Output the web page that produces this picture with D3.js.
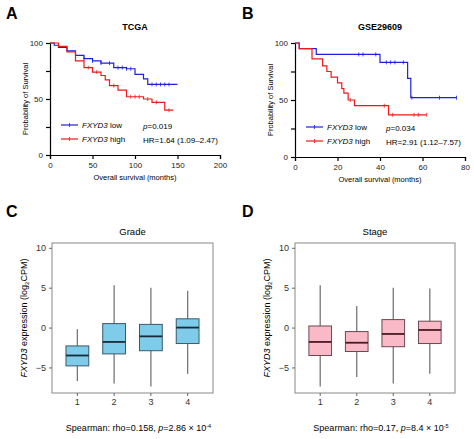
<!DOCTYPE html>
<html><head><meta charset="utf-8">
<script src="https://cdn.jsdelivr.net/npm/d3@7"></script>
<style>body{margin:0;background:#fff}text{font-family:Arial,"Liberation Sans",sans-serif}</style>
</head><body><svg id="c" width="474" height="439"></svg>
<script>
// KM step points: [time, survival %]
const tcgaLow = [[0,100],[5,98],[10,96],[20,93],[30,89],[40,86],[50,84],[60,82],[75,78],[90,77],[100,72],[110,68],[115,63],[150,63]];
const tcgaHigh = [[0,100],[10,97],[20,92],[30,84],[40,78],[50,74],[60,71],[65,67],[70,62],[80,58],[90,52],[110,50],[120,47],[135,40],[145,40]];
const tcgaLowCens = [40,50,60,70,80,85,90,95,120,125,130,135,140];
const tcgaHighCens = [45,55,75,95,100,105,115,125,140];
const geoLow = [[0,100],[2,95],[10,90],[40,83],[53,69],[54.5,52],[76,52]];
const geoHigh = [[0,100],[2,95],[8,86],[13,80],[15,75],[17,70],[20,65],[22,60],[23,56],[25,50],[28,45],[44,37],[62,37]];
const geoLowCens = [30,32,38,43,45,47,51,55,68,76];
const geoHighCens = [26,42,46,56,58,62];
const groups = ["1","2","3","4"];
// [lowWhisker, q1, median, q3, highWhisker]
const gradeStats = [[-6.7,-4.8,-3.5,-2.3,-0.2],[-7,-3.3,-1.8,0.5,5.3],[-7.4,-2.9,-1.1,0.4,5],[-5.8,-2,0,1.1,4.6]];
const stageStats = [[-7.4,-3.5,-1.8,0.2,5.3],[-6.2,-3,-1.9,-0.5,2.7],[-7,-2.4,-0.8,1,5],[-5.8,-2,-0.3,0.8,4.9]];

const svg = d3.select("#c");
const BLUE = "#1f1fe0", RED = "#f01818";

function letter(x, y, t) {
  svg.append("text").attr("x", x).attr("y", y).attr("font-size", 16).attr("font-weight", "bold").text(t);
}

function km(o) {
  const x = d3.scaleLinear().domain(o.xd).range([o.x0, o.x1]);
  const y = d3.scaleLinear().domain([0, 100]).range([o.y1, o.y0]);
  const g = svg.append("g");
  g.append("g").attr("transform", `translate(0,${o.y1})`)
    .call(d3.axisBottom(x).tickValues(o.ticks).tickSize(4).tickFormat(d3.format("d")))
    .call(a => a.selectAll("text").attr("font-size", 8).attr("fill", "#222"));
  g.append("g").attr("transform", `translate(${o.x0},0)`)
    .call(d3.axisLeft(y).tickValues([0, 25, 50, 75, 100]).tickSize(4)
      .tickFormat(d => d % 50 === 0 ? d : ""))
    .call(a => a.selectAll("text").attr("font-size", 8).attr("fill", "#222"));
  g.selectAll(".domain, .tick line").attr("stroke", "#000").attr("stroke-width", 1.2);
  g.append("text").attr("x", (o.x0 + o.x1) / 2).attr("y", 30).attr("text-anchor", "middle")
    .attr("font-size", 9).attr("font-weight", "bold").text(o.title);
  g.append("text").attr("x", (o.x0 + o.x1) / 2).attr("y", o.y1 + 25).attr("text-anchor", "middle")
    .attr("font-size", 7.5).text("Overall survival (months)");
  g.append("text").attr("transform", `translate(${o.x0 - 22},${(o.y0 + o.y1) / 2}) rotate(-90)`)
    .attr("text-anchor", "middle").attr("font-size", 7.5).text("Probability of Survival");
  const line = d3.line().x(d => x(d[0])).y(d => y(d[1])).curve(d3.curveStepAfter);
  [[o.low, o.lowC, BLUE], [o.high, o.highC, RED]].forEach(([pts, cens, col]) => {
    g.append("path").attr("d", line(pts)).attr("fill", "none").attr("stroke", col).attr("stroke-width", 1.2);
    cens.forEach(t => {
      let s = pts[0][1];
      pts.forEach(p => { if (p[0] <= t) s = p[1]; });
      g.append("line").attr("x1", x(t)).attr("x2", x(t)).attr("y1", y(s) - 2).attr("y2", y(s) + 2)
        .attr("stroke", col).attr("stroke-width", 0.8);
    });
  });
  const lx = o.x0 + 11, ly = o.y1 - 30;
  [["low", BLUE, 0], ["high", RED, 14]].forEach(([lab, col, dy]) => {
    g.append("line").attr("x1", lx).attr("x2", lx + 17).attr("y1", ly + dy).attr("y2", ly + dy)
      .attr("stroke", col).attr("stroke-width", 1.2);
    g.append("line").attr("x1", lx + 8.5).attr("x2", lx + 8.5).attr("y1", ly + dy - 2).attr("y2", ly + dy + 2)
      .attr("stroke", col).attr("stroke-width", 0.8);
    const t = g.append("text").attr("x", lx + 21).attr("y", ly + dy + 3).attr("font-size", 8);
    t.append("tspan").attr("font-style", "italic").text("FXYD3");
    t.append("tspan").text(" " + lab);
  });
  const st = g.append("text").attr("x", o.px).attr("y", ly + 4).attr("font-size", 8);
  st.append("tspan").attr("font-style", "italic").text("p");
  st.append("tspan").text("=" + o.p);
  g.append("text").attr("x", o.px).attr("y", ly + 18).attr("font-size", 8).text(o.hr);
}

function box(o) {
  const x = d3.scaleBand().domain(groups).range([o.x0, o.x1]).padding(0.38);
  const y = d3.scaleLinear().domain([-8.2, 10.6]).range([o.y1, o.y0]);
  const g = svg.append("g");
  g.append("rect").attr("x", o.x0).attr("y", o.y0).attr("width", o.x1 - o.x0).attr("height", o.y1 - o.y0)
    .attr("fill", "none").attr("stroke", "#888").attr("stroke-width", 1);
  g.append("g").attr("transform", `translate(${o.x0},0)`)
    .call(d3.axisLeft(y).tickValues([-5, 0, 5, 10]).tickSize(3))
    .call(a => a.select(".domain").remove())
    .call(a => a.selectAll("text").attr("font-size", 9).attr("fill", "#333"));
  g.append("g").attr("transform", `translate(0,${o.y1})`)
    .call(d3.axisBottom(x).tickSize(3))
    .call(a => a.select(".domain").remove())
    .call(a => a.selectAll("text").attr("font-size", 9).attr("fill", "#333"));
  g.selectAll(".tick line").attr("stroke", "#666");
  g.append("text").attr("x", (o.x0 + o.x1) / 2).attr("y", o.y0 - 8).attr("text-anchor", "middle")
    .attr("font-size", 9.5).text(o.title);
  const yl = g.append("text").attr("transform", `translate(${o.x0 - 25},${(o.y0 + o.y1) / 2}) rotate(-90)`)
    .attr("text-anchor", "middle").attr("font-size", 9);
  yl.append("tspan").attr("font-style", "italic").text("FXYD3");
  yl.append("tspan").text(" expression (log");
  yl.append("tspan").attr("font-size", 6).attr("dy", 2).text("2");
  yl.append("tspan").attr("dy", -2).text("CPM)");
  o.stats.forEach((s, i) => {
    const cx = x(groups[i]) + x.bandwidth() / 2;
    g.append("line").attr("x1", cx).attr("x2", cx).attr("y1", y(s[0])).attr("y2", y(s[4]))
      .attr("stroke", "#777").attr("stroke-width", 1.3);
    g.append("rect").attr("x", x(groups[i])).attr("width", x.bandwidth()).attr("y", y(s[3]))
      .attr("height", y(s[1]) - y(s[3])).attr("fill", o.fill).attr("stroke", o.stroke).attr("stroke-width", 1);
    g.append("line").attr("x1", x(groups[i])).attr("x2", x(groups[i]) + x.bandwidth())
      .attr("y1", y(s[2])).attr("y2", y(s[2])).attr("stroke", o.med).attr("stroke-width", 1.8);
  });
  const t = g.append("text").attr("x", (o.x0 + o.x1) / 2 + 6).attr("y", 431).attr("text-anchor", "middle").attr("font-size", 9);
  t.append("tspan").text("Spearman: rho=" + o.rho + ", ");
  t.append("tspan").attr("font-style", "italic").text("p");
  t.append("tspan").text("=" + o.p + " \u00d7 10");
  t.append("tspan").attr("font-size", 5.5).attr("dy", -3).text(o.exp);
}

letter(6, 19, "A"); letter(242, 19, "B"); letter(6, 217, "C"); letter(242, 217, "D");
km({title: "TCGA", xd: [0, 200], ticks: [0, 50, 100, 150, 200], x0: 50, x1: 220, y0: 43, y1: 155,
  low: tcgaLow, high: tcgaHigh, lowC: tcgaLowCens, highC: tcgaHighCens, px: 143, p: "0.019", hr: "HR=1.64 (1.09\u20132.47)"});
km({title: "GSE29609", xd: [0, 80], ticks: [0, 20, 40, 60, 80], x0: 295, x1: 465, y0: 43, y1: 157,
  low: geoLow, high: geoHigh, lowC: geoLowCens, highC: geoHighCens, px: 386, p: "0.034", hr: "HR=2.91 (1.12\u20137.57)"});
box({title: "Grade", x0: 52, x1: 213, y0: 243, y1: 393, stats: gradeStats, fill: "#7ecbea", stroke: "#3a5a6a", med: "#1a2a38",
  rho: "0.158", p: "2.86", exp: "-4"});
box({title: "Stage", x0: 295, x1: 455, y0: 243, y1: 393, stats: stageStats, fill: "#f9b9c7", stroke: "#6a4a50", med: "#4a1a22",
  rho: "0.17", p: "8.4", exp: "-5"});
</script></body></html>
